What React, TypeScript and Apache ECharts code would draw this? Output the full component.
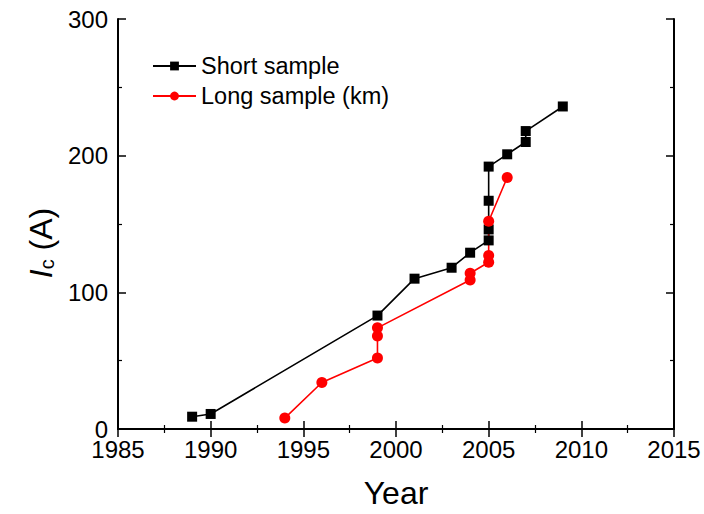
import React, { useEffect, useRef } from "react";
import * as echarts from "echarts";

const shortSample: [number, number][] = [
  [1989, 9], [1990, 11], [1999, 83], [2001, 110], [2003, 118], [2004, 129],
  [2005, 138], [2005, 146], [2005, 167], [2005, 192], [2006, 201],
  [2007, 210], [2007, 218], [2009, 236],
];
const longSample: [number, number][] = [
  [1994, 8], [1996, 34], [1999, 52], [1999, 68], [1999, 74], [2004, 109],
  [2004, 114], [2005, 122], [2005, 127], [2005, 152], [2006, 184],
];
const seriesNames = ["Short sample", "Long sample (km)"];

export default function App() {
  const ref = useRef<HTMLDivElement>(null);
  useEffect(() => {
    const chart = echarts.init(ref.current!, null, { renderer: "svg" });
    const font = "Liberation Sans, Arial, sans-serif";
    const lineStyle = { color: "#000", width: 2 };
    const tick = { show: true, inside: true, length: 8, lineStyle: { color: "#000", width: 1.5 } };
    const minor = { show: true, splitNumber: 2, length: 4, lineStyle: { color: "#000", width: 1.2 } };
    chart.setOption({
      animation: false,
      backgroundColor: "#fff",
      grid: { left: 118, right: 30, top: 19, bottom: 84 },
      legend: {
        orient: "vertical",
        left: 147,
        top: 49,
        itemWidth: 43,
        itemHeight: 11,
        itemGap: 6,
        textStyle: { fontSize: 23.5, color: "#000", fontFamily: font },
        data: seriesNames,
      },
      xAxis: [
        {
          type: "value",
          min: 1985,
          max: 2015,
          interval: 5,
          name: "Year",
          nameLocation: "middle",
          nameGap: 48,
          nameTextStyle: { fontSize: 32, color: "#000", fontFamily: font },
          axisLine: { show: true, lineStyle },
          axisTick: tick,
          minorTick: minor,
          axisLabel: { fontSize: 24, lineHeight: 20, color: "#000", fontFamily: font, margin: 10, formatter: (v: number) => String(v) },
          splitLine: { show: false },
        },
        {
          type: "value",
          position: "top",
          min: 1985,
          max: 2015,
          interval: 5,
          axisLine: { show: true, lineStyle },
          axisTick: tick,
          minorTick: minor,
          axisLabel: { show: false },
          splitLine: { show: false },
        },
      ],
      yAxis: [
        {
          type: "value",
          min: 0,
          max: 300,
          interval: 100,
          name: "{i|I}{sub|c}{n| (A)}",
          nameLocation: "middle",
          nameGap: 58,
          nameRotate: 90,
          nameTextStyle: {
            fontFamily: font,
            color: "#000",
            padding: [0, 38, 0, 0],
            rich: {
              i: { fontSize: 32, fontStyle: "italic", fontFamily: font, color: "#000" },
              sub: { fontSize: 20, fontFamily: font, color: "#000", verticalAlign: "bottom", padding: [12, 0, 0, 0] },
              n: { fontSize: 32, fontFamily: font, color: "#000" },
            },
          },
          axisLine: { show: true, lineStyle },
          axisTick: tick,
          minorTick: minor,
          axisLabel: { fontSize: 24, lineHeight: 20, color: "#000", fontFamily: font, margin: 10 },
          splitLine: { show: false },
        },
        {
          type: "value",
          position: "right",
          min: 0,
          max: 300,
          interval: 100,
          axisLine: { show: true, lineStyle },
          axisTick: tick,
          minorTick: minor,
          axisLabel: { show: false },
          splitLine: { show: false },
        },
      ],
      series: [
        {
          name: seriesNames[0],
          type: "line",
          data: shortSample,
          symbol: "rect",
          symbolSize: 10,
          itemStyle: { color: "#000" },
          lineStyle: { color: "#000", width: 1.6 },
        },
        {
          name: seriesNames[1],
          type: "line",
          data: longSample,
          symbol: "circle",
          symbolSize: 11,
          itemStyle: { color: "#ff0000" },
          lineStyle: { color: "#ff0000", width: 1.6 },
        },
      ],
    });
    return () => chart.dispose();
  }, []);
  return <div ref={ref} style={{ width: 704, height: 514, position: "absolute", left: 0, top: 0 }} />;
}
